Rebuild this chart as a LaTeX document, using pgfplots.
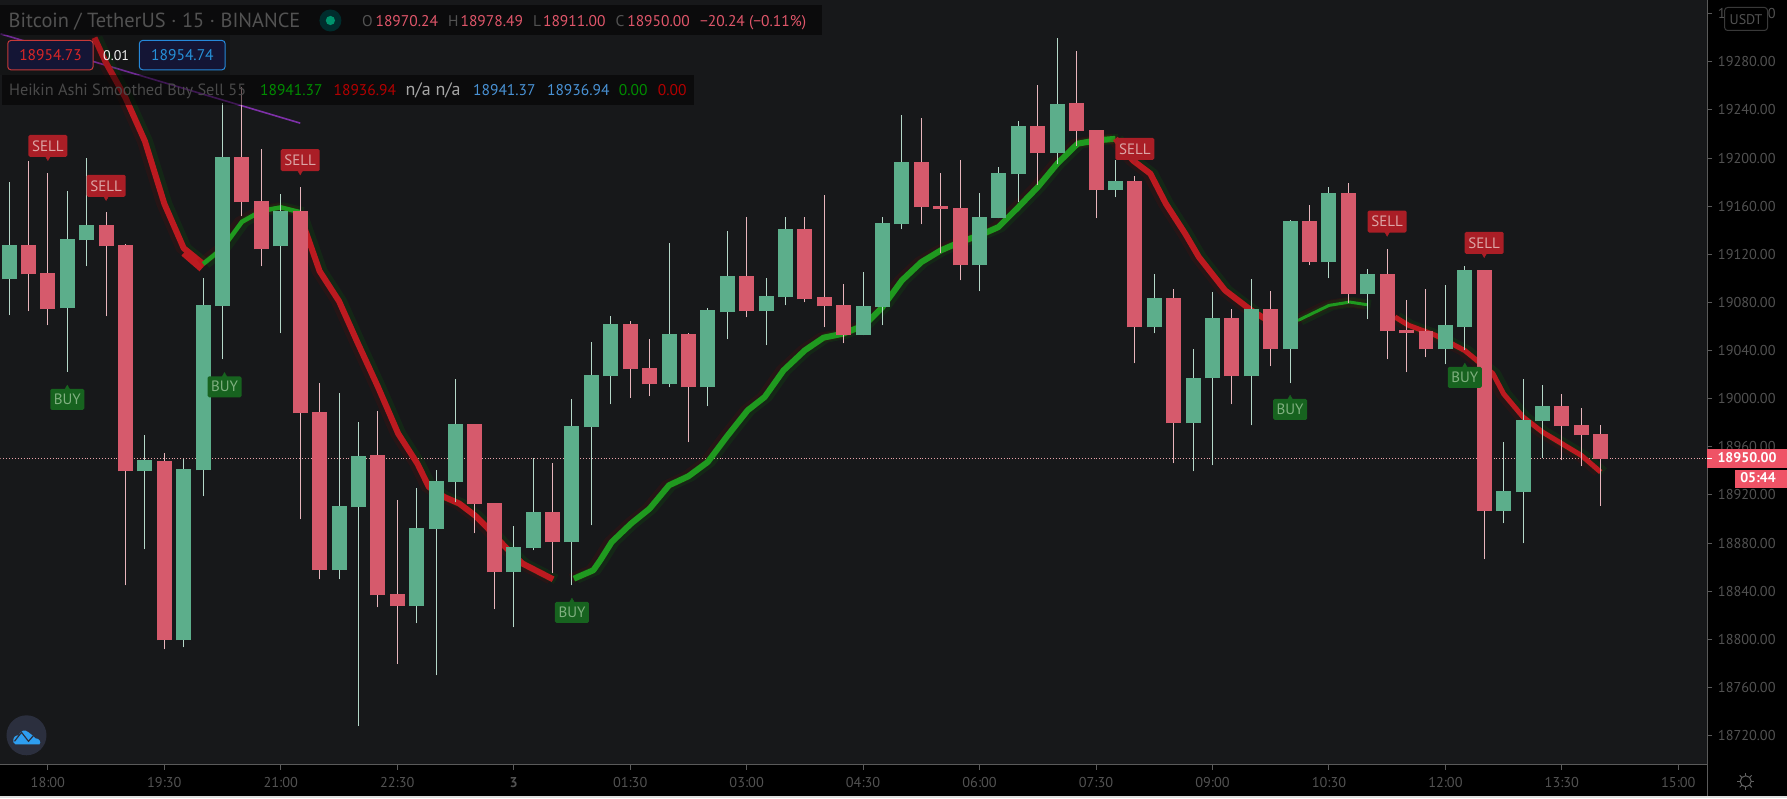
\documentclass[border=0pt]{standalone}
\usepackage{fontspec}
\usepackage{pgfplots}
\usepackage{pgfplotstable}
\pgfplotsset{compat=1.18}
\setmainfont{PT Sans}
\definecolor{bgc}{HTML}{17181A}
\definecolor{upc}{HTML}{5CAE8B}
\definecolor{dnc}{HTML}{D65A6C}
\definecolor{upw}{HTML}{B5D8C9}
\definecolor{dnw}{HTML}{E8B5BC}
\definecolor{linered}{HTML}{BC1A20}
\definecolor{linegreen}{HTML}{1F9A1F}
\definecolor{axc}{HTML}{5A5A5A}
\definecolor{txc}{HTML}{525252}
\definecolor{tagc}{HTML}{EF5366}
\definecolor{hdr}{HTML}{E0566A}
\definecolor{sellf}{HTML}{AA1E26}
\definecolor{sellt}{HTML}{DCA6A6}
\definecolor{buyf}{HTML}{17631F}
\definecolor{buyt}{HTML}{80B080}
\definecolor{purp}{HTML}{7E30A8}
\definecolor{logobg}{HTML}{2B2F3E}
\definecolor{logoc}{HTML}{2E9EF0}

\pgfplotstableread{
i top bot hi lo
-1 19127.4 19103.3 19197.2 19072.6
0 19104.1 19074.2 19187.2 19060.9
3 19144 19126.6 19154.8 19068.4
4 19127.4 18939.6 19128.8 18844.9
6 18947.9 18799.2 18954.6 18791.7
10 19200.5 19163.1 19259 19151.5
11 19164 19124.1 19207.2 19110
13 19155.7 18987.8 19175.6 18899.7
14 18988.6 18857.4 19012.8 18849.9
17 18952.9 18836.6 18989.5 18826.6
18 18837.4 18827.5 18915.5 18779.3
22 18978.7 18912.2 18978.7 18888.1
23 18913 18855.7 18913 18825
26 18905.5 18880.6 18946.3 18854.9
30 19061.8 19024.4 19064.3 19000.6
31 19025.2 19011.9 19049.3 19001.9
33 19053.5 19009.4 19054.3 18963.7
36 19101.6 19072.6 19150.7 19067.6
39 19140.7 19082.5 19150.7 19080
40 19084.2 19076.7 19169 19059.3
41 19077.6 19052.6 19095 19046
45 19196.4 19159 19232.9 19144.9
46 19159.8 19157.3 19187.2 19120.8
47 19158.1 19110.8 19198 19098.3
51 19226.3 19203.8 19260.3 19177.3
53 19245.4 19222.1 19288.6 19209.7
54 19222.9 19173.1 19222.9 19149.8
56 19180.6 19059.3 19184.7 19029.4
58 19083.4 18979.5 19090.8 18946.3
61 19066.7 19018.6 19074.2 18995.3
63 19074.2 19041 19089.2 19026.9
65 19147.3 19113.3 19160.6 19110.8
67 19170.6 19086.7 19178.9 19079.2
69 19103.3 19056 19124.1 19032.7
70 19056.8 19054.3 19081.7 19021.9
71 19056 19041 19090.8 19034.4
74 19106.6 18906.4 19106.6 18866.5
78 18993.6 18977 19003.6 18948.8
79 18977.8 18969.5 18992 18943.8
80 18970.24 18950 18978.49 18911
}\redbars
\pgfplotstableread{
i top bot hi lo
-2 19127.4 19099.2 19180 19069.3
1 19132.4 19075.1 19172.3 19022.2
2 19144 19131.6 19199.7 19109.9
5 18948.8 18939.6 18969.5 18874.8
7 18941.3 18799.2 18950.1 18793.4
8 19077.6 18940.4 19100 18918.8
9 19200.5 19076.7 19246 19032.7
12 19155.7 19126.6 19169.8 19054.3
15 18910.5 18857.4 19004.5 18849.9
16 18952 18909.7 18980.3 18727.8
19 18892.3 18827.5 18925.5 18813.3
20 18931.3 18891.4 18940.4 18770.1
21 18978.7 18930.5 19016 18913.9
24 18876.5 18855.7 18893.9 18810
25 18905.5 18875.6 18950.4 18874
27 18977 18880.6 19000 18844.9
28 19019.4 18976.2 19046.8 18894.8
29 19061.8 19018.6 19068.4 18995.3
32 19053.5 19011.9 19129.1 19009.4
34 19073.4 19009.4 19075 18993.6
35 19101.6 19071.7 19139 19049.3
37 19085 19072.6 19100 19044.3
38 19140.7 19084.2 19150.7 19077.6
42 19076.7 19052.6 19105 19052.6
43 19145.7 19075.9 19150.7 19060.9
44 19196.4 19144.9 19235.4 19140.7
48 19150.7 19110.8 19170.6 19089.2
49 19187.2 19149.8 19192.2 19149.8
50 19226.3 19186.4 19230.4 19163.1
52 19244.5 19203.8 19299.4 19194.7
55 19180.6 19173.1 19198 19167.3
57 19083.4 19059.3 19103.3 19054.3
59 19016.9 18979.5 19041 18939.6
60 19066.7 19016.9 19088.4 18944.6
62 19074.2 19018.6 19099.2 18977.8
64 19147.3 19041 19148.2 19012.8
66 19170.6 19113.3 19175.6 19100
68 19103.3 19086.7 19107.5 19065.9
72 19061 19041 19094.2 19028.5
73 19106.6 19059.3 19110 19040.2
75 18923 18906.4 18963.7 18896.4
76 18982 18922.2 19016 18879.8
77 18993.6 18981.2 19011 18950.4
}\greenbars

\pgfplotstableread{
x y
2.4 19300
3 19279
4 19250
5 19214
6 19162
7 19125
8 19112
}\rA
\pgfplotstableread{
x y
8 19112
9 19125
10 19147
11 19156
12 19159
13 19155
}\gA
\pgfplotstableread{
x y
13 19152
14 19106
15 19081
16 19045
17 19010
18.05 18970.9
19.04 18946
19.63 18926.6
20.42 18918.3
21.2 18912.8
22 18903
22.6 18893.4
23.57 18876.7
24.46 18862.9
26.03 18849.9
}\rB
\pgfplotstableread{
x y
27.1 18850.4
28.1 18857.4
28.46 18865.7
29.05 18880.9
30.04 18896.1
31 18908.6
32 18928
33 18935.5
34 18947.4
34.96 18968.1
36.05 18990.3
36.93 19001.4
37.9 19023.5
39 19040.2
39.96 19050.7
40.97 19054
42.06 19061
43 19076.2
44 19098.3
45 19113.5
46 19123.2
47 19130.2
48 19135.7
48.97 19142.6
50 19159.2
51 19175.9
52 19195.3
53.05 19211.9
54 19214.6
55 19216
}\gB
\pgfplotstableread{
x y
55 19216
55.9 19198
56.8 19187
57.6 19162
58.6 19137
59.3 19117.7
60.65 19090
62 19073.4
62.85 19065
}\rC
\pgfplotstableread{
x y
64.4 19065
66 19077.5
67.07 19080.3
68 19078
}\gC
\pgfplotstableread{
x y
69.4 19067.9
70.1 19061
71.5 19052.6
73 19040
74.45 19020.8
75 19004
76 18984.8
77 18972.3
78 18962.6
79 18952.9
80 18939
}\rD

\newcommand\seg[3]{%
  \addplot[no marks,line width=10pt,color=red!60!black,opacity=.12,xshift=-3pt,forget plot] table[x=x,y=y]{#1};
  \addplot[no marks,line width=10pt,color=green!60!black,opacity=.12,xshift=3pt,forget plot] table[x=x,y=y]{#1};
  \addplot[no marks,line width=#3,color=#2,forget plot,line join=round] table[x=x,y=y]{#1};
}

\begin{document}
\begin{tikzpicture}[x=1pt,y=1pt]
% page ground
\fill[black] (0,-33.7) rectangle (1787,764.3);
\fill[white!88!black] (0,-33.7) rectangle (1787,-31.3);
\begin{axis}[
  at={(0pt,0pt)},anchor=south west,
  scale only axis,width=1707.4pt,height=764.3pt,
  xmin=-2.441,xmax=85.5,ymin=18695.9,ymax=19330.93,
  axis background/.style={fill=bgc},
  axis x line*=bottom,axis y line*=right,
  axis line style={color=axc,line width=1pt,-},
  every tick/.style={color=axc,line width=1pt},
  tick align=outside,major tick length=5pt,
  xtick={0,6,...,84},
  xticklabels={18:00,19:30,21:00,22:30,\textbf{3},01:30,03:00,04:30,06:00,07:30,09:00,10:30,12:00,13:30,15:00},
  ytick={18720,18760,18800,18840,18880,18920,18960,19000,19040,19080,19120,19160,19200,19240,19280,19320},
  yticklabels={18720.00,18760.00,18800.00,18840.00,18880.00,18920.00,18960.00,19000.00,19040.00,19080.00,19120.00,19160.00,19200.00,19240.00,19280.00,19320.00},
  scaled y ticks=false,
  yticklabel pos=right,
  tick label style={text=txc,font=\fontsize{14.3}{16}\selectfont},
  xticklabel style={yshift=-4pt},
  yticklabel style={xshift=2pt},
  clip=true,
]
% last price line
\addplot[no marks,dotted,color=dnw!90!red,line width=.9pt,forget plot] coordinates {(-2.441,18950) (85.5,18950)};
% purple trend line
\addplot[no marks,color=purp,line width=1.6pt,forget plot] coordinates {(-2.441,19303.2) (13,19229)};
% signal line
\seg{\rA}{linered}{6pt}
\addplot[no marks,line width=10pt,color=linered,forget plot] coordinates {(7.05,19122) (7.98,19109)};
\seg{\gA}{linegreen}{4.5pt}
\seg{\rB}{linered}{6pt}
\seg{\gB}{linegreen}{6pt}
\seg{\rC}{linered}{6pt}
\seg{\gC}{linegreen}{3pt}
\seg{\rD}{linered}{5pt}
% labels
\addplot[only marks,mark=triangle*,mark size=3.5pt,
  mark options={rotate=180,color=sellf,fill=sellf},
  nodes near coords={SELL},
  every node near coord/.style={anchor=south,fill=sellf,text=sellt,rounded corners=1.5pt,
   inner sep=0pt,minimum width=39pt,minimum height=22pt,font=\fontsize{15}{16}\selectfont,yshift=0pt}]
  coordinates {(0,19200.8)(3,19167.6)(13,19188.9)(56,19198.3)(69,19137.9)(74,19120.2)};
\addplot[only marks,mark=triangle*,mark size=3.5pt,
  mark options={color=buyf,fill=buyf},
  nodes near coords={BUY},
  every node near coord/.style={anchor=north,fill=buyf,text=buyt,rounded corners=1.5pt,
   inner sep=0pt,minimum width=34pt,minimum height=21pt,font=\fontsize{15}{16}\selectfont,yshift=0pt}]
  coordinates {(1,19008.3)(9.1,19018.8)(27,18831.3)(64,19000)(73,19026.6)};
% wicks
\addplot[draw=none,no markers,forget plot,error bars/.cd,y dir=plus,y explicit,error mark=none,
  error bar style={line width=1pt,color=dnw}]
  table[x=i,y=lo,y error plus expr=\thisrow{hi}-\thisrow{lo}]{\redbars};
\addplot[draw=none,no markers,forget plot,error bars/.cd,y dir=plus,y explicit,error mark=none,
  error bar style={line width=1pt,color=upw}]
  table[x=i,y=lo,y error plus expr=\thisrow{hi}-\thisrow{lo}]{\greenbars};
% bodies
\addplot[draw=none,no markers,forget plot,error bars/.cd,y dir=plus,y explicit,error mark=none,
  error bar style={line width=15pt,color=dnc}]
  table[x=i,y=bot,y error plus expr=\thisrow{top}-\thisrow{bot}]{\redbars};
\addplot[draw=none,no markers,forget plot,error bars/.cd,y dir=plus,y explicit,error mark=none,
  error bar style={line width=15pt,color=upc}]
  table[x=i,y=bot,y error plus expr=\thisrow{top}-\thisrow{bot}]{\greenbars};
\end{axis}
% overlays, in pixels from the top left
\begin{scope}[shift={(0,764.3)},x=1pt,y=-1pt,font=\fontsize{15.5}{17}\selectfont]
\draw[axc,line width=1pt] (1707.4,764) -- (1707.4,796);
% legend boxes
\fill[black,opacity=.5] (0,5) rectangle (822,35);
\fill[black,opacity=.12] (0,35) rectangle (229.6,75);
\fill[black,opacity=.5] (2,75) rectangle (694,105);
\node[anchor=base west,inner sep=0,text=txc,font=\fontsize{20.4}{22}\selectfont] at (8,27) {Bitcoin / TetherUS · 15 · BINANCE};
\fill[teal!35!black] (330,20) circle (11);
\fill[teal!85!green] (330,20) circle (4.6);
\tikzset{hd/.style={anchor=base west,inner sep=0}}
\node[hd,text=txc] at (361.5,26.5) {O};
\node[hd,text=hdr] at (375,26.5) {18970.24};
\node[hd,text=txc] at (447.5,26.5) {H};
\node[hd,text=hdr] at (460,26.5) {18978.49};
\node[hd,text=txc] at (532.5,26.5) {L};
\node[hd,text=hdr] at (542.5,26.5) {18911.00};
\node[hd,text=txc] at (615,26.5) {C};
\node[hd,text=hdr] at (626.8,26.5) {18950.00};
\node[hd,text=hdr] at (699.5,26.5) {−20.24 (−0.11\%)};
\draw[draw=red!55!gray,fill=blue!12!bgc,rounded corners=3pt,line width=1pt] (7.3,40) rectangle (92.6,69.3);
\node[text=red!70!gray] at (50,54.8) {18954.73};
\node[text=white!90!gray,font=\fontsize{14}{16}\selectfont] at (115.6,55) {0.01};
\draw[draw=blue!45!cyan!70!gray,fill=blue!12!bgc,rounded corners=3pt,line width=1pt] (139,40) rectangle (224.6,69.3);
\node[text=blue!40!cyan!70!gray] at (182,54.8) {18954.74};
\node[hd,text=txc!90!black,font=\fontsize{16.3}{18}\selectfont] at (8.4,95) {Heikin Ashi Smoothed Buy Sell 55};
\node[hd,text=green!55!black] at (259.5,95) {18941.37};
\node[hd,text=red!70!black] at (333,95) {18936.94};
\node[hd,text=white!65!black,font=\fontsize{18}{19}\selectfont] at (405,95) {n/a n/a};
\node[hd,text=cyan!60!blue!75!white] at (472.6,95) {18941.37};
\node[hd,text=cyan!60!blue!75!white] at (546.5,95) {18936.94};
\node[hd,text=green!55!black] at (618.4,95) {0.00};
\node[hd,text=red!70!black] at (657.4,95) {0.00};
% USDT
\draw[draw=txc!70!black,fill=black,rounded corners=3pt,line width=1pt] (1724.6,7) rectangle (1767.5,30);
\node[text=txc,font=\fontsize{14}{16}\selectfont] at (1746,19) {USDT};
% price tags
\fill[tagc] (1707,449) rectangle (1787,467.7);
\fill[tagc] (1735.4,469.3) rectangle (1787,487.7);
\draw[white,line width=1pt] (1707.4,458.3) -- (1712,458.3);
\node[text=white,font=\bfseries\fontsize{14}{16}\selectfont] at (1747,457.5) {18950.00};
\node[text=white,font=\bfseries\fontsize{14}{16}\selectfont] at (1758,477.5) {05:44};
% settings icon
\draw[txc!90!white,line width=1pt] (1745.7,781) circle (5.5);
\foreach \a in {0,45,...,315} \draw[txc!90!white,line width=1pt] (1745.7,781)++(\a:5.5) -- ++(\a:3);
% logo
\fill[logobg] (26,735) ellipse (20 and 20);
\fill[logoc] (13,742) .. controls (12,737) and (15,735) .. (18,735) .. controls (20,731) and (24,728) .. (28,732) .. controls (31,734) and (33,736) .. (35,738) .. controls (39,738) and (41,742) .. (39,744) -- (15,744) .. controls (14,744) and (13,743) .. (13,742) -- cycle;
\draw[logobg,line width=1.2pt] (14,741) -- (21,732) -- (28,741) -- (35,733);
\end{scope}
\end{tikzpicture}
\end{document}
